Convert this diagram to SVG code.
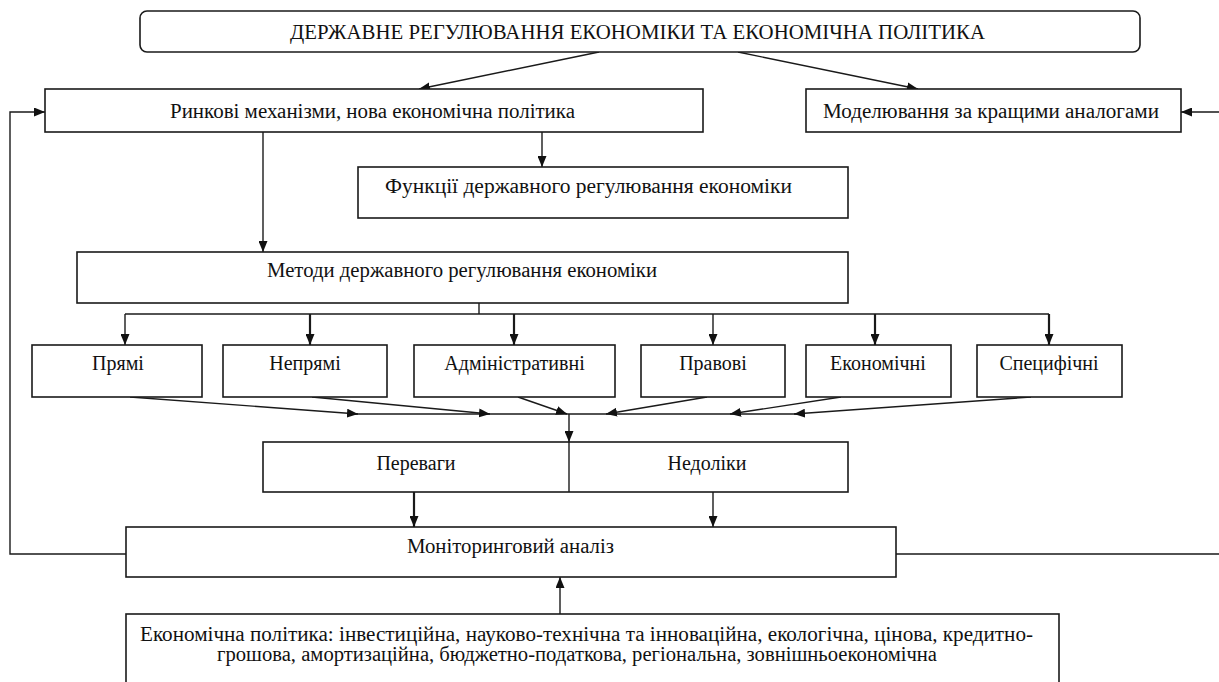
<svg xmlns="http://www.w3.org/2000/svg" width="1219" height="682" viewBox="0 0 1219 682">
<defs>
<marker id="ah" markerUnits="userSpaceOnUse" markerWidth="11" markerHeight="9" refX="11" refY="4.5" orient="auto">
<path d="M0,0 L11,4.5 L0,9 z" fill="#111"/>
</marker>
<style>
.box{fill:#fff;stroke:#1a1a1a;stroke-width:1.6}
.t{font-family:"Liberation Serif","DejaVu Serif","Times New Roman",serif;font-size:20px;fill:#111;text-anchor:middle}
.c{fill:none;stroke:#1a1a1a;stroke-width:1.4}
.a{fill:none;stroke:#1a1a1a;stroke-width:1.4;marker-end:url(#ah)}
.b{fill:none;stroke:#1a1a1a;stroke-width:2.2;marker-end:url(#ah)}
</style>
</defs>
<rect width="1219" height="682" fill="#fff"/>

<g id="connectors">
<line class="a" x1="599" y1="52" x2="419" y2="89"/>
<line class="a" x1="738" y1="52" x2="918" y2="89"/>
<line class="a" x1="542" y1="132" x2="542" y2="167"/>
<line class="a" x1="263" y1="132" x2="263" y2="252"/>
<polyline class="c" points="479,303 479,314"/>
<line class="c" x1="125" y1="314" x2="1049" y2="314"/>
<line class="a" x1="125" y1="314" x2="125" y2="345"/>
<line class="b" x1="310" y1="314" x2="310" y2="345"/>
<line class="b" x1="514" y1="314" x2="514" y2="345"/>
<line class="a" x1="713" y1="314" x2="713" y2="345"/>
<line class="b" x1="875" y1="314" x2="875" y2="345"/>
<line class="b" x1="1049" y1="314" x2="1049" y2="345"/>
<line class="c" x1="350" y1="414" x2="800" y2="414"/>
<line class="a" x1="130" y1="397" x2="358" y2="414"/>
<line class="a" x1="312" y1="397" x2="490" y2="414"/>
<line class="a" x1="518" y1="397" x2="567" y2="414"/>
<line class="a" x1="707" y1="397" x2="606" y2="414"/>
<line class="a" x1="841" y1="397" x2="730" y2="414"/>
<line class="a" x1="1031" y1="397" x2="794" y2="414"/>
<line class="a" x1="569" y1="414" x2="569" y2="442"/>
<line class="b" x1="414" y1="492" x2="414" y2="527"/>
<line class="a" x1="713" y1="492" x2="713" y2="527"/>
<line class="a" x1="560" y1="614" x2="560" y2="577"/>
<polyline class="a" points="126,554 10,554 10,112 45,112"/>
<polyline class="a" points="896,554 1230,554 1230,112 1181,112"/>
</g>

<g id="n-top">
<rect class="box" x="140" y="11" width="1000" height="41" rx="7"/>
<text class="t" x="637.5" y="39" textLength="695" lengthAdjust="spacingAndGlyphs">ДЕРЖАВНЕ РЕГУЛЮВАННЯ ЕКОНОМІКИ ТА ЕКОНОМІЧНА ПОЛІТИКА</text>
</g>
<g id="n-market">
<rect class="box" x="45" y="89" width="658" height="43"/>
<text class="t" x="372.5" y="118" textLength="405" lengthAdjust="spacingAndGlyphs">Ринкові механізми, нова економічна політика</text>
</g>
<g id="n-model">
<rect class="box" x="806" y="89" width="375" height="43"/>
<text class="t" x="991" y="118" textLength="336" lengthAdjust="spacingAndGlyphs">Моделювання за кращими аналогами</text>
</g>
<g id="n-functions">
<rect class="box" x="358" y="167" width="490" height="51"/>
<text class="t" x="588.5" y="193" textLength="407" lengthAdjust="spacingAndGlyphs">Функції державного регулювання економіки</text>
</g>
<g id="n-methods">
<rect class="box" x="77" y="252" width="771" height="51"/>
<text class="t" x="462" y="277" textLength="390" lengthAdjust="spacingAndGlyphs">Методи державного регулювання економіки</text>
</g>
<g id="n-direct">
<rect class="box" x="32" y="345" width="170" height="52"/>
<text class="t" x="118" y="370">Прямі</text>
</g>
<g id="n-indirect">
<rect class="box" x="223" y="345" width="164" height="52"/>
<text class="t" x="305" y="370">Непрямі</text>
</g>
<g id="n-admin">
<rect class="box" x="414" y="345" width="201" height="52"/>
<text class="t" x="514.5" y="370">Адміністративні</text>
</g>
<g id="n-legal">
<rect class="box" x="641" y="345" width="144" height="52"/>
<text class="t" x="713" y="370">Правові</text>
</g>
<g id="n-economic">
<rect class="box" x="806" y="345" width="145" height="52"/>
<text class="t" x="878" y="370">Економічні</text>
</g>
<g id="n-specific">
<rect class="box" x="977" y="345" width="145" height="52"/>
<text class="t" x="1049" y="370">Специфічні</text>
</g>
<g id="n-pros-cons">
<rect class="box" x="263" y="442" width="585" height="50"/>
<line class="c" x1="569" y1="442" x2="569" y2="492"/>
<text class="t" x="416" y="470">Переваги</text>
<text class="t" x="707" y="470">Недоліки</text>
</g>
<g id="n-monitoring">
<rect class="box" x="126" y="527" width="770" height="50"/>
<text class="t" x="510.5" y="553" textLength="207" lengthAdjust="spacingAndGlyphs">Моніторинговий аналіз</text>
</g>
<g id="n-policy">
<rect class="box" x="126" y="614" width="933" height="80"/>
<text class="t" x="586.5" y="641" textLength="893" lengthAdjust="spacingAndGlyphs">Економічна політика: інвестиційна, науково-технічна та інноваційна, екологічна, цінова, кредитно-</text>
<text class="t" x="577" y="661" textLength="720" lengthAdjust="spacingAndGlyphs">грошова, амортизаційна, бюджетно-податкова, регіональна, зовнішньоекономічна</text>
</g>
</svg>
